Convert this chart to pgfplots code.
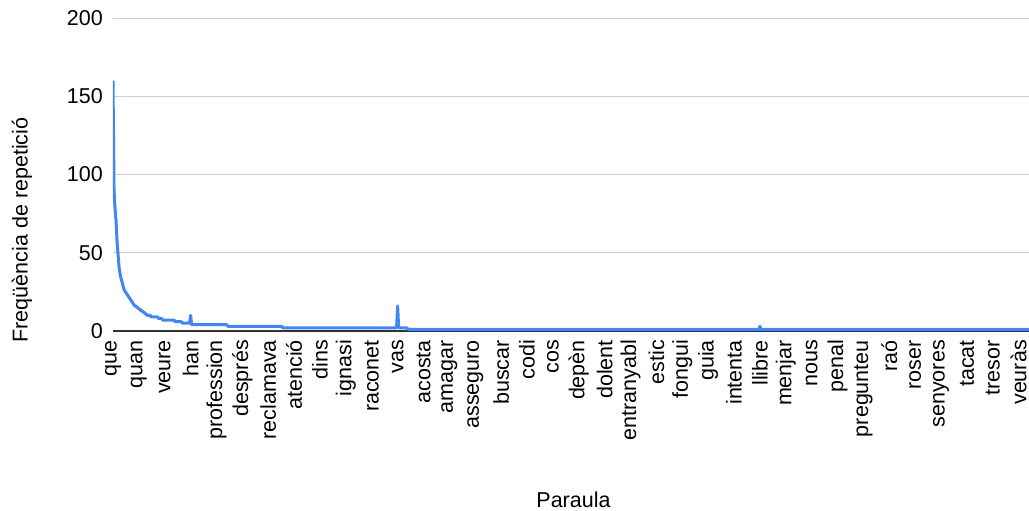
\documentclass[border=0pt]{standalone}
\usepackage{fontspec}
\setmainfont{Liberation Sans}
\usepackage{pgfplots}
\pgfplotsset{compat=1.18}
\usetikzlibrary{calc}
\definecolor{lineblue}{HTML}{4285F4}
\definecolor{gridgrey}{HTML}{CCCCCC}
\definecolor{basegrey}{HTML}{333333}

% rank of word (sorted by frequency), frequency; only the points where the value changes
\pgfplotstableread{
x y
0 160
1 90
2 78
3 70
4 56
5 48
6 40
7 36
8 33
9 31
10 28
11 26
12 25
13 24
14 23
15 22
16 21
17 20
18 19
19 18
20 17
21 16
22 16
23 15
24 15
25 14
26 14
27 13
28 13
29 12
30 12
31 11
32 11
33 10
36 10
37 9
43 9
44 8
47 8
48 7
59 7
60 6
66 6
67 5
74 5
75 10
76 4
110 4
111 3
163 3
164 2
274 2
275 16
276 2
284 2
285 1
624 1
625 3
626 1
885 1
}\freqdata

\begin{document}
\begin{tikzpicture}
\begin{axis}[name=ax,
    scale only axis, width=916pt, height=313pt,
    xmin=0, xmax=885, ymin=0, ymax=200,
    axis line style={draw=none}, tick style={draw=none},
    ytick={50,100,150,200},
    extra y ticks={0},
    extra y tick style={grid style={draw=basegrey, line width=1.3pt}},
    ymajorgrids, grid style={draw=gridgrey, line width=1pt},
    xtick={0,25,...,875},
    xticklabels={que,quan,veure,han,profession,després,reclamava,atenció,dins,ignasi,raconet,vas,acosta,amagar,asseguro,buscar,codi,cos,depèn,dolent,entranyabl,estic,fongui,guia,intenta,llibre,menjar,nous,penal,pregunteu,raó,roser,senyores,tacat,tresor,veuràs},
    /pgf/number format/assume math mode=true,
    tick label style={font=\fontsize{21.5}{24}\selectfont},
    label style={font=\fontsize{21.5}{24}\selectfont},
    yticklabel style={anchor=east, inner sep=0pt, xshift=-10pt},
    xticklabel style={yshift=-9pt, rotate=90, anchor=east, inner sep=0pt},
    xlabel={Paraula}, ylabel={Freqüència de repetició},
    xlabel style={at={(axis description cs:0.5027,-0.5623)}, anchor=base},
    ylabel style={at={(axis description cs:-0.0995,0.3227)}, anchor=center},
  ]
  \addplot[lineblue, line width=3pt, line join=round] table[x=x, y=y] {\freqdata};
\end{axis}
\pgfresetboundingbox
\path ($(ax.south west)+(-113pt,-180pt)$) rectangle ($(ax.north east)+(0pt,18pt)$);
\end{tikzpicture}
\end{document}
